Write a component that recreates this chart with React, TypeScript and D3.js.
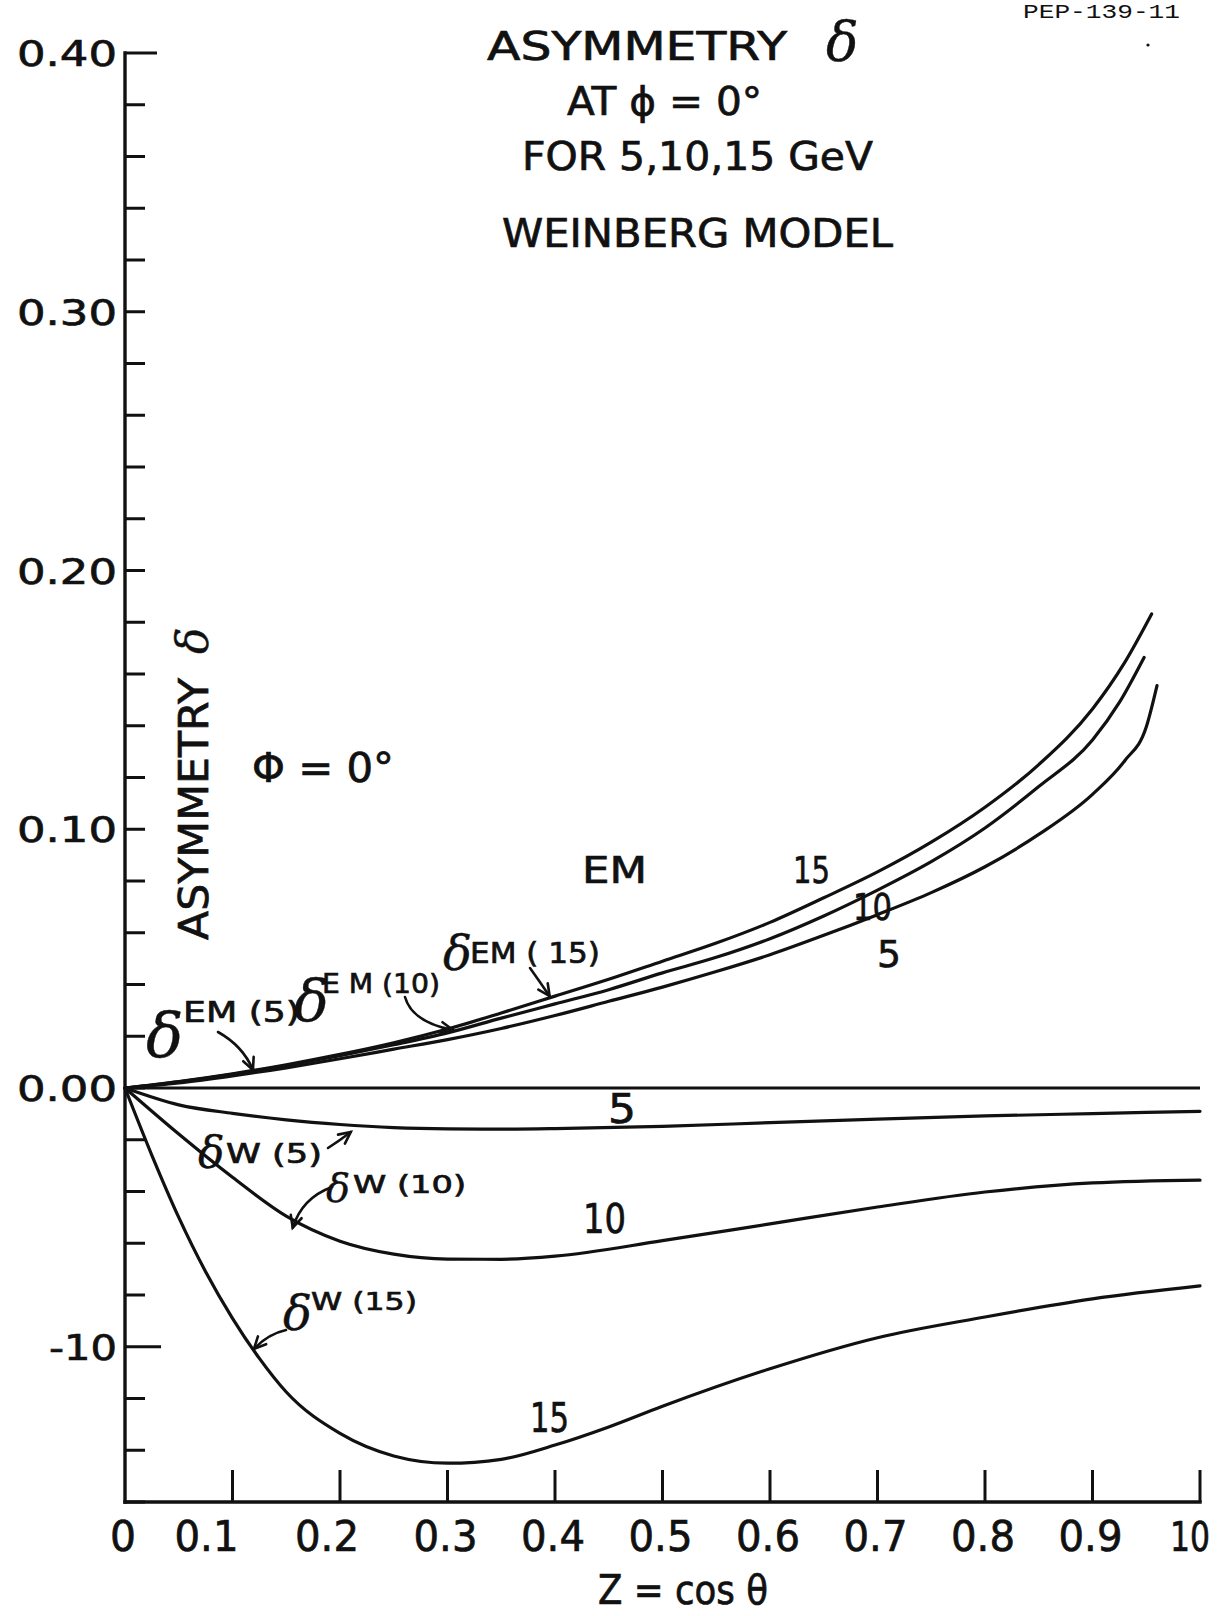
import React from 'react';
import * as d3 from 'd3';

const W = 1221;
const H = 1616;

// axis ticks
const xTicks = [0, 0.1, 0.2, 0.3, 0.4, 0.5, 0.6, 0.7, 0.8, 0.9, 1.0];
const xTickLabels = ['0', '0.1', '0.2', '0.3', '0.4', '0.5', '0.6', '0.7', '0.8', '0.9', '10'];
const yMajorTicks = [0.4, 0.3, 0.2, 0.1, 0.0, -0.1];
const yTickLabels = ['0.40', '0.30', '0.20', '0.10', '0.00', '-10'];

// electromagnetic asymmetry, 5 / 10 / 15 GeV
const emZ15 = [0, 0.05, 0.1, 0.15, 0.2, 0.25, 0.3, 0.35, 0.4, 0.45, 0.5, 0.55, 0.6, 0.65, 0.7, 0.75, 0.8, 0.85, 0.9, 0.93, 0.955];
const em15 = [0, 0.0025, 0.0055, 0.009, 0.013, 0.0175, 0.0228, 0.029, 0.0355, 0.042, 0.049, 0.056, 0.064, 0.0735, 0.0835, 0.095, 0.1085, 0.125, 0.1465, 0.1645, 0.1832];
const emZ10 = [0, 0.05, 0.1, 0.15, 0.2, 0.25, 0.3, 0.35, 0.4, 0.45, 0.5, 0.55, 0.6, 0.65, 0.7, 0.75, 0.8, 0.85, 0.9, 0.925, 0.948];
const em10 = [0, 0.0024, 0.0053, 0.0087, 0.0125, 0.0167, 0.0213, 0.027, 0.0325, 0.038, 0.0445, 0.0505, 0.0577, 0.0665, 0.0765, 0.0875, 0.1005, 0.1165, 0.1345, 0.149, 0.1664];
const emZ5 = [0, 0.05, 0.1, 0.15, 0.2, 0.25, 0.3, 0.35, 0.4, 0.45, 0.5, 0.55, 0.6, 0.65, 0.7, 0.75, 0.8, 0.85, 0.9, 0.93, 0.95, 0.96];
const em5 = [0, 0.002, 0.0047, 0.0078, 0.0113, 0.015, 0.0187, 0.023, 0.028, 0.0335, 0.039, 0.045, 0.0515, 0.059, 0.067, 0.0755, 0.0855, 0.098, 0.1135, 0.1265, 0.1395, 0.1555];

// weak asymmetry
const wZ = [0, 0.05, 0.1, 0.15, 0.2, 0.25, 0.3, 0.35, 0.4, 0.5, 0.6, 0.7, 0.8, 0.9, 1.0];
const w5 = [0, -0.0065, -0.0098, -0.0123, -0.0141, -0.0153, -0.0158, -0.0159, -0.0157, -0.0148, -0.0134, -0.012, -0.0108, -0.0099, -0.009];
const w10 = [0, -0.0178, -0.0345, -0.0495, -0.0592, -0.0642, -0.0661, -0.0662, -0.065, -0.059, -0.0525, -0.046, -0.0402, -0.0367, -0.0356];
const wZ15 = [0, 0.025, 0.05, 0.075, 0.1, 0.125, 0.15, 0.2, 0.25, 0.3, 0.35, 0.4, 0.45, 0.5, 0.6, 0.7, 0.8, 0.9, 1.0];
const w15 = [0, -0.026, -0.05, -0.071, -0.089, -0.1045, -0.1175, -0.1335, -0.1422, -0.145, -0.1435, -0.138, -0.131, -0.123, -0.1085, -0.0965, -0.0885, -0.0815, -0.0765];

const zeroZ = [0, 1.0];
const zeroV = [0, 0];

const FONT = '"DejaVu Sans", "Liberation Sans", sans-serif';
const SERIF = '"DejaVu Serif", "Liberation Serif", serif';
const INK = '#111';

function Arrow({ x0, y0, cx, cy, x1, y1 }) {
  const ang = Math.atan2(y1 - cy, x1 - cx);
  const L = 13;
  const a1 = ang + Math.PI - 0.45;
  const a2 = ang + Math.PI + 0.45;
  return (
    <g stroke={INK} strokeWidth={2.6} fill="none" strokeLinecap="round">
      <path d={`M${x0},${y0} Q${cx},${cy} ${x1},${y1}`} />
      <path d={`M${x1 + L * Math.cos(a1)},${y1 + L * Math.sin(a1)} L${x1},${y1} L${x1 + L * Math.cos(a2)},${y1 + L * Math.sin(a2)}`} />
    </g>
  );
}

function Lbl({ x, y, size, len, children, anchor = 'start', family = FONT, style = 'normal', bold = 0.7 }) {
  return (
    <text x={x} y={y} fontSize={size} fontFamily={family} fontStyle={style} textAnchor={anchor}
      fill={INK} stroke={INK} strokeWidth={bold} textLength={len}
      lengthAdjust={len ? 'spacingAndGlyphs' : undefined}>
      {children}
    </text>
  );
}

function Delta({ x, y, size }) {
  return <Lbl x={x} y={y} size={size} family={SERIF} style="italic" bold={0.4}>δ</Lbl>;
}

export default function App() {
  const x = d3.scaleLinear().domain([0, 1]).range([125, 1200]);
  const y = d3.scaleLinear().domain([-0.16, 0.4]).range([1502, 53]);

  const line = d3.line<[number, number]>()
    .x(d => x(d[0]))
    .y(d => y(d[1]))
    .curve(d3.curveMonotoneX);

  const series = [
    [emZ15, em15], [emZ10, em10], [emZ5, em5],
    [wZ, w5], [wZ, w10], [wZ15, w15],
  ].map(([zs, vs]) => zs.map((z, i) => [z, vs[i]] as [number, number]));

  const minor = y.ticks(28);
  const xNudge = (lab) => (lab === '0.1' ? -26 : lab === '0.2' ? -13 : lab === '10' ? -10 : -2);

  return (
    <svg width={W} height={H} style={{ position: 'absolute', left: 0, top: 0, background: '#fff' }}>
      <rect width={W} height={H} fill="#fff" />

      {/* report number */}
      <text x={1023} y={18} fontSize={21} fontFamily='"Liberation Mono", monospace' fill={INK}
        textLength={157} lengthAdjust="spacingAndGlyphs">PEP-139-11</text>
      <circle cx={1148} cy={45} r={1.6} fill={INK} />

      {/* title */}
      <Lbl x={487} y={60} size={39} len={300}>ASYMMETRY</Lbl>
      <Delta x={826} y={60} size={54} />
      <Lbl x={567} y={115} size={39} len={195}>AT ϕ = 0°</Lbl>
      <Lbl x={522} y={170} size={39} len={351}>FOR 5,10,15 GeV</Lbl>
      <Lbl x={502} y={247} size={39} len={391}>WEINBERG MODEL</Lbl>

      {/* axes */}
      <g stroke={INK} strokeWidth={3.4} fill="none" strokeLinecap="square">
        <line x1={x(0)} x2={x(0)} y1={y(0.4)} y2={y(-0.16)} />
        <line x1={x(0)} x2={x(1)} y1={y(-0.16)} y2={y(-0.16)} />
      </g>
      <g stroke={INK} strokeWidth={3}>
        {minor.map(t => (
          <line key={'m' + t} x1={x(0)} x2={x(0) + (Math.abs(t - 0.4) < 1e-6 ? 32 : Math.abs(t + 0.1) < 1e-6 ? 36 : 20)}
            y1={y(t)} y2={y(t)} />
        ))}
        {xTicks.slice(1).map(t => (
          <line key={'x' + t} x1={x(t)} x2={x(t)} y1={y(-0.16)} y2={y(-0.16) - 32} />
        ))}
      </g>
      {yMajorTicks.map((t, i) => (
        <Lbl key={'yl' + t} x={117} y={y(t) + 13} size={36} anchor="end"
          len={yTickLabels[i].length === 4 ? 100 : 68}>{yTickLabels[i]}</Lbl>
      ))}
      {xTicks.map((t, i) => (
        <Lbl key={'xl' + t} x={x(t) + xNudge(xTickLabels[i])} y={1551}
          size={xTickLabels[i].length === 2 ? 40 : 42} anchor="middle"
          len={xTickLabels[i].length === 1 ? 26 : xTickLabels[i].length === 2 ? 40 : 64}>{xTickLabels[i]}</Lbl>
      ))}
      <Lbl x={683} y={1604} size={40} anchor="middle" len={170}>Z = cos θ</Lbl>

      {/* vertical axis title */}
      <g transform="translate(208,940) rotate(-90)">
        <Lbl x={0} y={0} size={41} len={262}>ASYMMETRY</Lbl>
        <Delta x={286} y={0} size={44} />
      </g>
      <Lbl x={252} y={782} size={40} len={142}>Φ = 0°</Lbl>

      {/* curves */}
      <path d={line(zeroZ.map((z, i) => [z, zeroV[i]] as [number, number]))} stroke={INK} strokeWidth={3.2} fill="none" />
      {series.map((pts, i) => (
        <path key={'s' + i} d={line(pts)} stroke={INK} strokeWidth={3.2} fill="none" strokeLinecap="round" />
      ))}

      {/* curve labels */}
      <Lbl x={582} y={883} size={38} len={65}>EM</Lbl>
      <Lbl x={793} y={883} size={38} len={37}>15</Lbl>
      <Lbl x={853} y={920} size={38} len={39}>10</Lbl>
      <Lbl x={877} y={967} size={38} len={24}>5</Lbl>
      <Lbl x={608} y={1123} size={40} len={28}>5</Lbl>
      <Lbl x={583} y={1233} size={40} len={43}>10</Lbl>
      <Lbl x={530} y={1432} size={40} len={39}>15</Lbl>

      <Delta x={146} y={1057} size={62} />
      <Lbl x={183} y={1022} size={28} len={117}>EM (5)</Lbl>
      <Delta x={294} y={1021} size={58} />
      <Lbl x={322} y={993} size={27} len={118}>E M (10)</Lbl>
      <Delta x={443} y={970} size={48} />
      <Lbl x={470} y={963} size={28} len={130}>EM ( 15)</Lbl>

      <Delta x={198} y={1168} size={44} />
      <Lbl x={226} y={1163} size={26} len={96}>W (5)</Lbl>
      <Delta x={326} y={1202} size={40} />
      <Lbl x={353} y={1193} size={25} len={113}>W (10)</Lbl>
      <Delta x={283} y={1330} size={48} />
      <Lbl x={311} y={1310} size={25} len={106}>W (15)</Lbl>

      {/* arrows */}
      <Arrow x0={218} y0={1032} cx={243} cy={1046} x1={x(0.119)} y1={y(0.007)} />
      <Arrow x0={405} y0={997} cx={412} cy={1022} x1={x(0.305)} y1={y(0.0224)} />
      <Arrow x0={530} y0={968} cx={540} cy={982} x1={x(0.395)} y1={y(0.0355)} />
      <Arrow x0={328} y0={1148} cx={339} cy={1141} x1={x(0.21)} y1={y(-0.017)} />
      <Arrow x0={332} y0={1187} cx={302} cy={1198} x1={x(0.156)} y1={y(-0.054)} />
      <Arrow x0={286} y0={1330} cx={268} cy={1334} x1={x(0.12)} y1={y(-0.1008)} />
    </svg>
  );
}
